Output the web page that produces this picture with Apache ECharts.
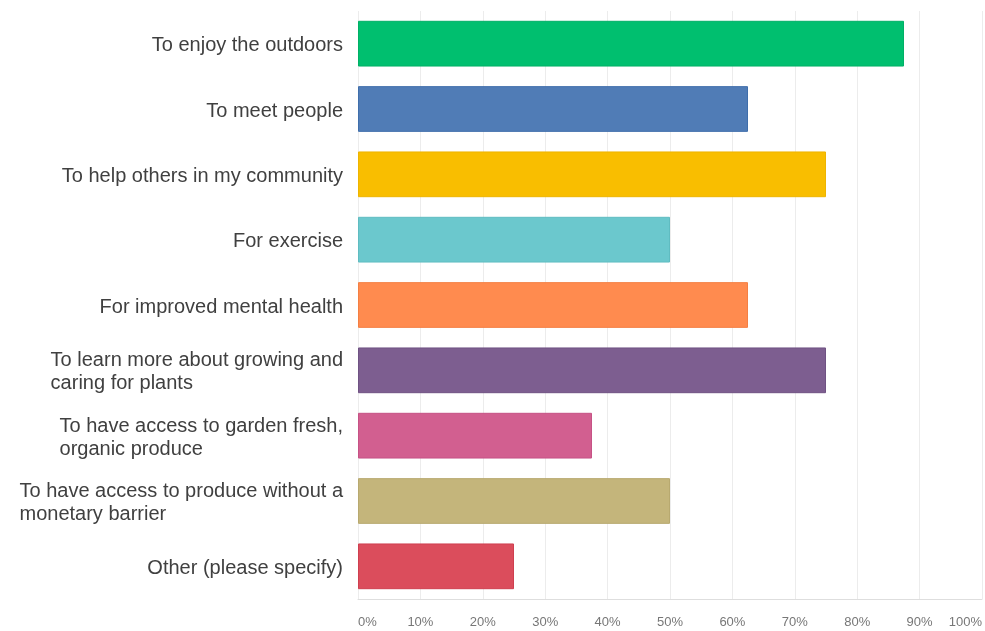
<!DOCTYPE html>
<html>
<head>
<meta charset="utf-8">
<script src="https://cdn.jsdelivr.net/npm/echarts@6/dist/echarts.min.js"></script>
<style>
  html, body { margin: 0; padding: 0; background: #fff; }
  #chart { width: 985px; height: 631px; }
</style>
</head>
<body>
<div id="chart"></div>
<script>
// Survey answers: why people take part in the community garden
const categories = [
  'To enjoy the outdoors',
  'To meet people',
  'To help others in my community',
  'For exercise',
  'For improved mental health',
  'To learn more about growing and\ncaring for plants',
  'To have access to garden fresh,\norganic produce',
  'To have access to produce without a\nmonetary barrier',
  'Other (please specify)'
];
// Share of respondents (%)
const percentages = [87.5, 62.5, 75, 50, 62.5, 75, 37.5, 50, 25];
const barColors = ['#00BF6F', '#507CB6', '#F9BE00', '#6BC8CD', '#FF8B4F', '#7D5E90', '#D25F90', '#C4B57B', '#DB4D5C'];
const barBorders = ['#00b066', '#3f6eab', '#eeb400', '#5fbcc1', '#f47f43', '#6f5283', '#c65285', '#b8a96f', '#cf3f4f'];
const tickLabels = ['0%', '10%', '20%', '30%', '40%', '50%', '60%', '70%', '80%', '90%', '100%'];

const chart = echarts.init(document.getElementById('chart'), null, { renderer: 'canvas' });

chart.setOption({
  animation: false,
  backgroundColor: '#ffffff',
  grid: { left: 358, right: 2, top: 11, bottom: 32, containLabel: false },
  xAxis: {
    type: 'value',
    min: 0,
    max: 100,
    interval: 10,
    axisLine: { show: true, lineStyle: { color: '#dedede', width: 1 } },
    axisTick: { show: false },
    splitLine: { show: true, lineStyle: { color: '#ececec', width: 1 } },
    axisLabel: {
      formatter: (v) => tickLabels[Math.round(v / 10)],
      color: '#777',
      fontFamily: 'Liberation Sans, Arial, sans-serif',
      fontSize: 13,
      margin: 17,
      alignMinLabel: 'left',
      alignMaxLabel: 'right'
    }
  },
  yAxis: {
    type: 'category',
    inverse: true,
    data: categories,
    axisLine: { show: false },
    axisTick: { show: false },
    splitLine: { show: false },
    axisLabel: {
      margin: 15,
      align: 'right',
      formatter: (v) => '{t|' + v + '}',
      rich: {
        t: {
          align: 'left',
          color: '#404040',
          fontFamily: 'Liberation Sans, Arial, sans-serif',
          fontSize: 20,
          lineHeight: 23,
          padding: [4, 0, 0, 0]
        }
      }
    }
  },
  series: [
    {
      type: 'bar',
      data: percentages.map((v, i) => ({
        value: v,
        itemStyle: { color: barColors[i], borderColor: barBorders[i], borderWidth: 1 }
      })),
      barWidth: '70%',
      silent: true
    }
  ]
});
</script>
</body>
</html>
